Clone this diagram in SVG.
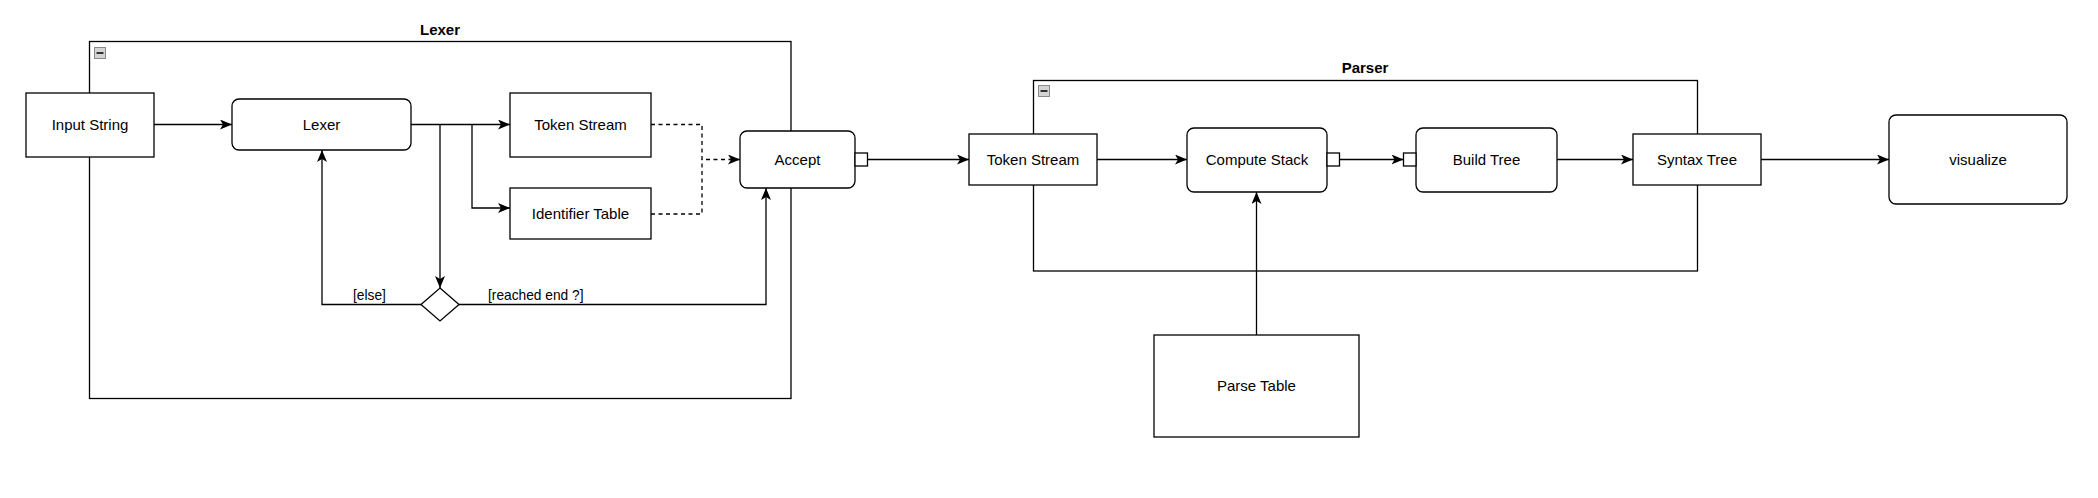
<svg xmlns="http://www.w3.org/2000/svg" width="2098" height="498" viewBox="0 0 2098 498">
<defs>
<style>
.frame{fill:none;stroke:#000;stroke-width:1.3}
.box{fill:#fff;stroke:#000;stroke-width:1.3}
.port{fill:#fff;stroke:#000;stroke-width:1.3}
.edge{fill:none;stroke:#000;stroke-width:1.3}
.dash{stroke-dasharray:4 3.5}
.arr{marker-end:url(#arrow)}
.t{font-family:"Liberation Sans",Arial,sans-serif;font-size:15px;fill:#000;text-anchor:middle}
.title{font-family:"Liberation Sans",Arial,sans-serif;font-size:15px;font-weight:bold;fill:#000;text-anchor:middle}
.lbl{font-family:"Liberation Sans",Arial,sans-serif;font-size:13.75px;fill:#000}
.icon{fill:#d4d4d4;stroke:#8a8a8a;stroke-width:1}
.minus{fill:#333}
</style>
<marker id="arrow" markerWidth="12" markerHeight="10" refX="12" refY="5" orient="auto" markerUnits="userSpaceOnUse">
<path d="M0,0 L12,5 L0,10 L3,5 Z" fill="#000"/>
</marker>
</defs>
<rect width="2098" height="498" fill="#fff"/>

<g id="lexer-frame">
<rect class="frame" x="89.5" y="41.5" width="701.5" height="357"/>
<text class="title" x="440" y="35">Lexer</text>
<rect class="icon" x="94.5" y="47.5" width="11" height="11"/>
<rect class="minus" x="96.5" y="52" width="7" height="2"/>
</g>

<g id="parser-frame">
<rect class="frame" x="1033.5" y="80.5" width="664" height="190.5"/>
<text class="title" x="1365" y="72.5">Parser</text>
<rect class="icon" x="1038.5" y="85.5" width="11" height="11"/>
<rect class="minus" x="1040.5" y="90" width="7" height="2"/>
</g>

<g id="connectors">
<path class="edge arr" d="M154,124.5 H232"/>
<path class="edge arr" d="M411,124.5 H510"/>
<path class="edge arr" d="M472,124.5 V208 H510"/>
<path class="edge arr" d="M440,124.5 V288"/>
<path class="edge dash arr" d="M651,124.5 H702 V159.5 H740"/>
<path class="edge dash" d="M651,214 H702 V159.5"/>
<path class="edge arr" d="M421,304.5 H322 V150"/>
<path class="edge arr" d="M459,304.5 H766 V188"/>
<path class="edge arr" d="M867.5,159.5 H969"/>
<path class="edge arr" d="M1097,159.5 H1187"/>
<path class="edge arr" d="M1339.5,159.5 H1403.5"/>
<path class="edge arr" d="M1557,159.5 H1633"/>
<path class="edge arr" d="M1761,159.5 H1889"/>
<path class="edge arr" d="M1256.5,335 V192"/>
<text class="lbl" x="353" y="300">[else]</text>
<text class="lbl" x="488" y="300">[reached end ?]</text>
</g>

<g id="input-string">
<rect class="box" x="26" y="93" width="128" height="64"/>
<text class="t" x="90" y="130">Input String</text>
</g>

<g id="lexer">
<rect class="box" x="232" y="99" width="179" height="51" rx="7"/>
<text class="t" x="321.5" y="130">Lexer</text>
</g>

<g id="token-stream-lexer">
<rect class="box" x="510" y="93" width="141" height="64"/>
<text class="t" x="580.5" y="130">Token Stream</text>
</g>

<g id="identifier-table">
<rect class="box" x="510" y="188" width="141" height="51"/>
<text class="t" x="580.5" y="219">Identifier Table</text>
</g>

<g id="decision">
<polygon class="box" points="440,288 459,304.5 440,321 421,304.5"/>
</g>

<g id="accept">
<rect class="box" x="740" y="131" width="115" height="57" rx="7"/>
<rect class="port" x="855" y="153" width="12.5" height="13"/>
<text class="t" x="797.5" y="165">Accept</text>
</g>

<g id="token-stream-parser">
<rect class="box" x="969" y="134" width="128" height="51"/>
<text class="t" x="1033" y="165">Token Stream</text>
</g>

<g id="compute-stack">
<rect class="box" x="1187" y="128" width="140" height="64" rx="7"/>
<rect class="port" x="1327" y="153" width="12.5" height="13"/>
<text class="t" x="1257" y="165">Compute Stack</text>
</g>

<g id="build-tree">
<rect class="box" x="1416" y="128" width="141" height="64" rx="7"/>
<rect class="port" x="1403.5" y="153" width="12.5" height="13"/>
<text class="t" x="1486.5" y="165">Build Tree</text>
</g>

<g id="syntax-tree">
<rect class="box" x="1633" y="134" width="128" height="51"/>
<text class="t" x="1697" y="165">Syntax Tree</text>
</g>

<g id="visualize">
<rect class="box" x="1889" y="115" width="178" height="89" rx="7"/>
<text class="t" x="1978" y="165">visualize</text>
</g>

<g id="parse-table">
<rect class="box" x="1154" y="335" width="205" height="102"/>
<text class="t" x="1256.5" y="391">Parse Table</text>
</g>
</svg>
